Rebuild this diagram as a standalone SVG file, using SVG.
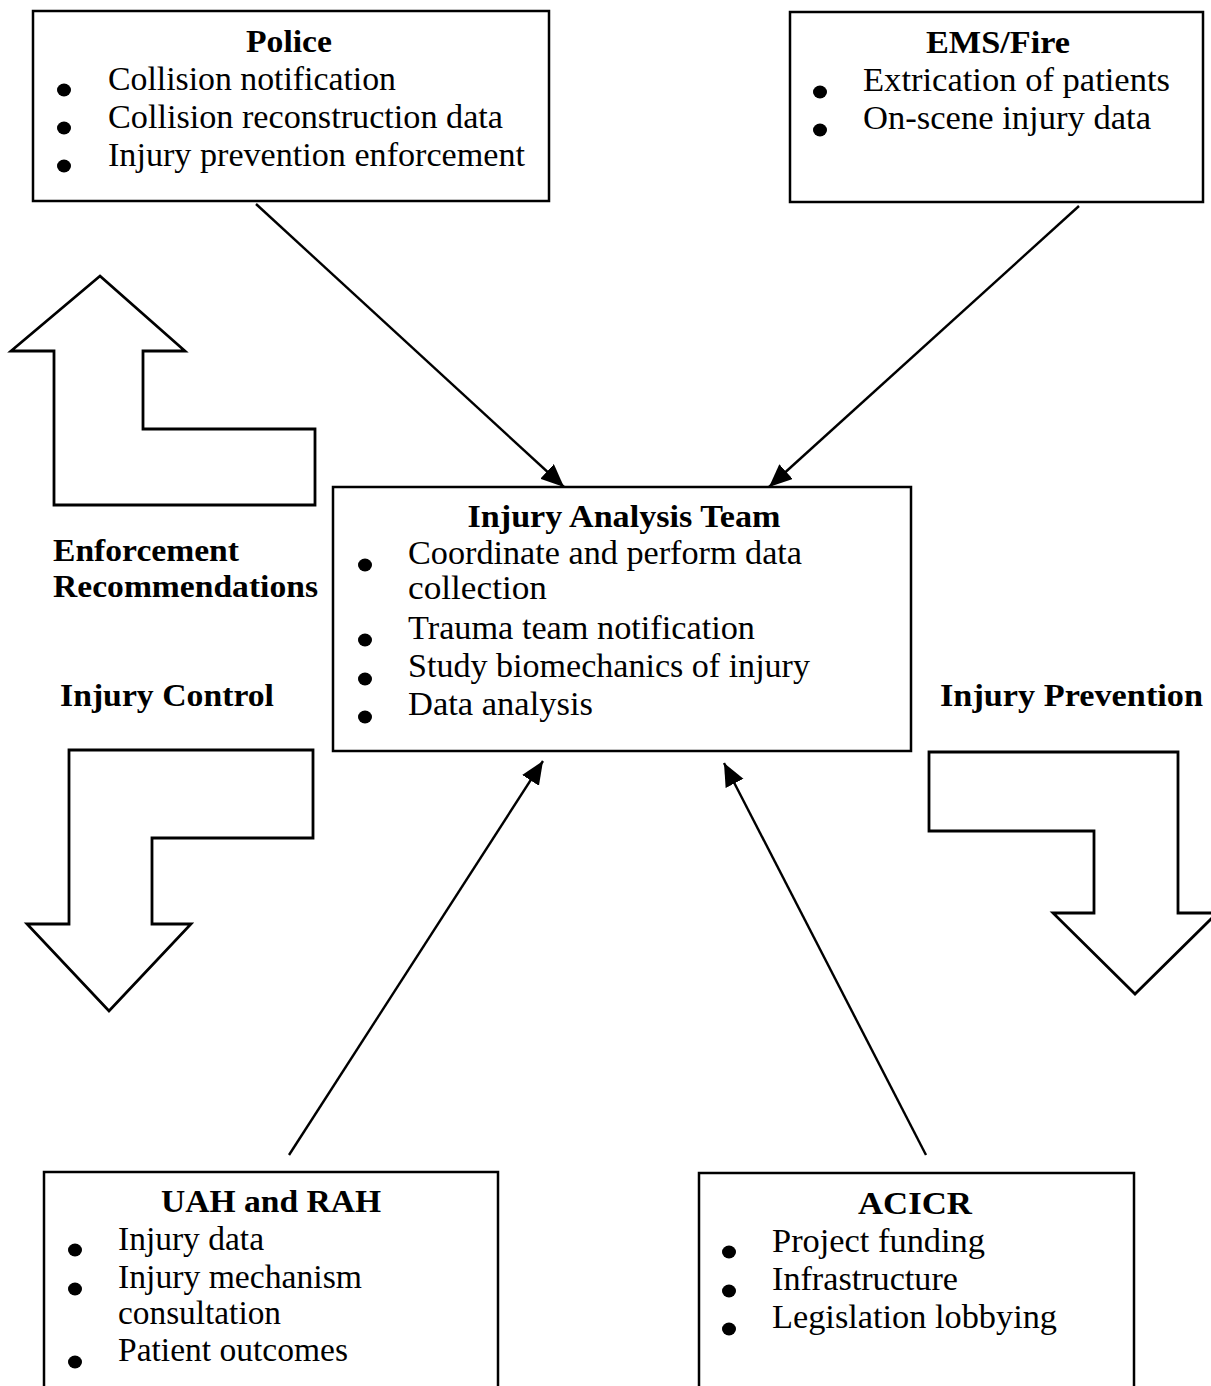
<svg xmlns="http://www.w3.org/2000/svg" width="1211" height="1386" viewBox="0 0 1211 1386">
<style>
.box{fill:#fff;stroke:#000;stroke-width:2.5}
.blk{fill:#fff;stroke:#000;stroke-width:2.8;stroke-linejoin:miter}
.con{stroke:#000;stroke-width:2.4;fill:none}
text{font-family:"Liberation Serif","Times New Roman",serif;fill:#000}
.t{font-size:33px}
.h{font-size:31px;font-weight:bold}
.hc{text-anchor:middle}
.b{fill:#000}
</style>
<defs>
<marker id="ah" markerUnits="userSpaceOnUse" markerWidth="26" markerHeight="22" refX="23" refY="10" orient="auto">
<path d="M0,0 L23,10 L0,20 z" fill="#000"/>
</marker>
</defs>
<rect width="1211" height="1386" fill="#fff"/>

<g id="connectors">
<line class="con" x1="256" y1="204" x2="564" y2="487" marker-end="url(#ah)"/>
<line class="con" x1="1079" y1="206" x2="769" y2="487" marker-end="url(#ah)"/>
<line class="con" x1="289" y1="1155" x2="543" y2="761" marker-end="url(#ah)"/>
<line class="con" x1="926" y1="1155" x2="724" y2="763" marker-end="url(#ah)"/>
</g>

<g id="police">
<rect class="box" x="33" y="11" width="516" height="190"/>
<text class="h hc" x="289" y="52" textLength="86" lengthAdjust="spacingAndGlyphs">Police</text>
<ellipse class="b" cx="64" cy="90" rx="7" ry="6.5"/>
<ellipse class="b" cx="64" cy="128" rx="7" ry="6.5"/>
<ellipse class="b" cx="64" cy="166" rx="7" ry="6.5"/>
<text class="t" x="108" y="90" textLength="288" lengthAdjust="spacingAndGlyphs">Collision notification</text>
<text class="t" x="108" y="128" textLength="395" lengthAdjust="spacingAndGlyphs">Collision reconstruction data</text>
<text class="t" x="108" y="166" textLength="417" lengthAdjust="spacingAndGlyphs">Injury prevention enforcement</text>
</g>

<g id="ems">
<rect class="box" x="790" y="12" width="413" height="190"/>
<text class="h hc" x="998" y="53" textLength="144" lengthAdjust="spacingAndGlyphs">EMS/Fire</text>
<ellipse class="b" cx="820" cy="92" rx="7" ry="6.5"/>
<ellipse class="b" cx="820" cy="130" rx="7" ry="6.5"/>
<text class="t" x="863" y="91" textLength="307" lengthAdjust="spacingAndGlyphs">Extrication of patients</text>
<text class="t" x="863" y="129" textLength="288" lengthAdjust="spacingAndGlyphs">On-scene injury data</text>
</g>

<g id="iat">
<rect class="box" x="333" y="487" width="578" height="264"/>
<text class="h hc" x="624" y="527" textLength="313" lengthAdjust="spacingAndGlyphs">Injury Analysis Team</text>
<ellipse class="b" cx="365" cy="565" rx="7" ry="6.5"/>
<ellipse class="b" cx="365" cy="640" rx="7" ry="6.5"/>
<ellipse class="b" cx="365" cy="679" rx="7" ry="6.5"/>
<ellipse class="b" cx="365" cy="717" rx="7" ry="6.5"/>
<text class="t" x="408" y="564" textLength="394" lengthAdjust="spacingAndGlyphs">Coordinate and perform data</text>
<text class="t" x="408" y="599" textLength="139" lengthAdjust="spacingAndGlyphs">collection</text>
<text class="t" x="408" y="639" textLength="347" lengthAdjust="spacingAndGlyphs">Trauma team notification</text>
<text class="t" x="408" y="677" textLength="402" lengthAdjust="spacingAndGlyphs">Study biomechanics of injury</text>
<text class="t" x="408" y="715" textLength="185" lengthAdjust="spacingAndGlyphs">Data analysis</text>
</g>

<g id="uah">
<rect class="box" x="44" y="1172" width="454" height="240"/>
<text class="h hc" x="271" y="1212" textLength="220" lengthAdjust="spacingAndGlyphs">UAH and RAH</text>
<ellipse class="b" cx="75" cy="1250" rx="7" ry="6.5"/>
<ellipse class="b" cx="75" cy="1289" rx="7" ry="6.5"/>
<ellipse class="b" cx="75" cy="1362" rx="7" ry="6.5"/>
<text class="t" x="118" y="1250" textLength="146" lengthAdjust="spacingAndGlyphs">Injury data</text>
<text class="t" x="118" y="1288" textLength="244" lengthAdjust="spacingAndGlyphs">Injury mechanism</text>
<text class="t" x="118" y="1324" textLength="163" lengthAdjust="spacingAndGlyphs">consultation</text>
<text class="t" x="118" y="1361" textLength="230" lengthAdjust="spacingAndGlyphs">Patient outcomes</text>
</g>

<g id="acicr">
<rect class="box" x="699" y="1173" width="435" height="240"/>
<text class="h hc" x="915" y="1214" textLength="114" lengthAdjust="spacingAndGlyphs">ACICR</text>
<ellipse class="b" cx="729" cy="1252" rx="7" ry="6.5"/>
<ellipse class="b" cx="729" cy="1291" rx="7" ry="6.5"/>
<ellipse class="b" cx="729" cy="1329" rx="7" ry="6.5"/>
<text class="t" x="772" y="1252" textLength="213" lengthAdjust="spacingAndGlyphs">Project funding</text>
<text class="t" x="772" y="1290" textLength="186" lengthAdjust="spacingAndGlyphs">Infrastructure</text>
<text class="t" x="772" y="1328" textLength="285" lengthAdjust="spacingAndGlyphs">Legislation lobbying</text>
</g>

<g id="enforcement-arrow">
<polygon class="blk" points="100,276 185,351 143,351 143,429 315,429 315,505 54,505 54,351 11,351"/>
</g>
<g id="enforcement-label">
<text class="h" x="53" y="561" textLength="186" lengthAdjust="spacingAndGlyphs">Enforcement</text>
<text class="h" x="53" y="597" textLength="265" lengthAdjust="spacingAndGlyphs">Recommendations</text>
</g>
<g id="injury-control">
<text class="h" x="60" y="706" textLength="214" lengthAdjust="spacingAndGlyphs">Injury Control</text>
<polygon class="blk" points="69,750 313,750 313,838 152,838 152,924 191,924 109,1011 27,924 69,924"/>
</g>
<g id="injury-prevention">
<text class="h" x="940" y="706" textLength="263" lengthAdjust="spacingAndGlyphs">Injury Prevention</text>
<polygon class="blk" points="929,752 1178,752 1178,913 1217,913 1135,994 1053,913 1094,913 1094,831 929,831"/>
</g>
</svg>
